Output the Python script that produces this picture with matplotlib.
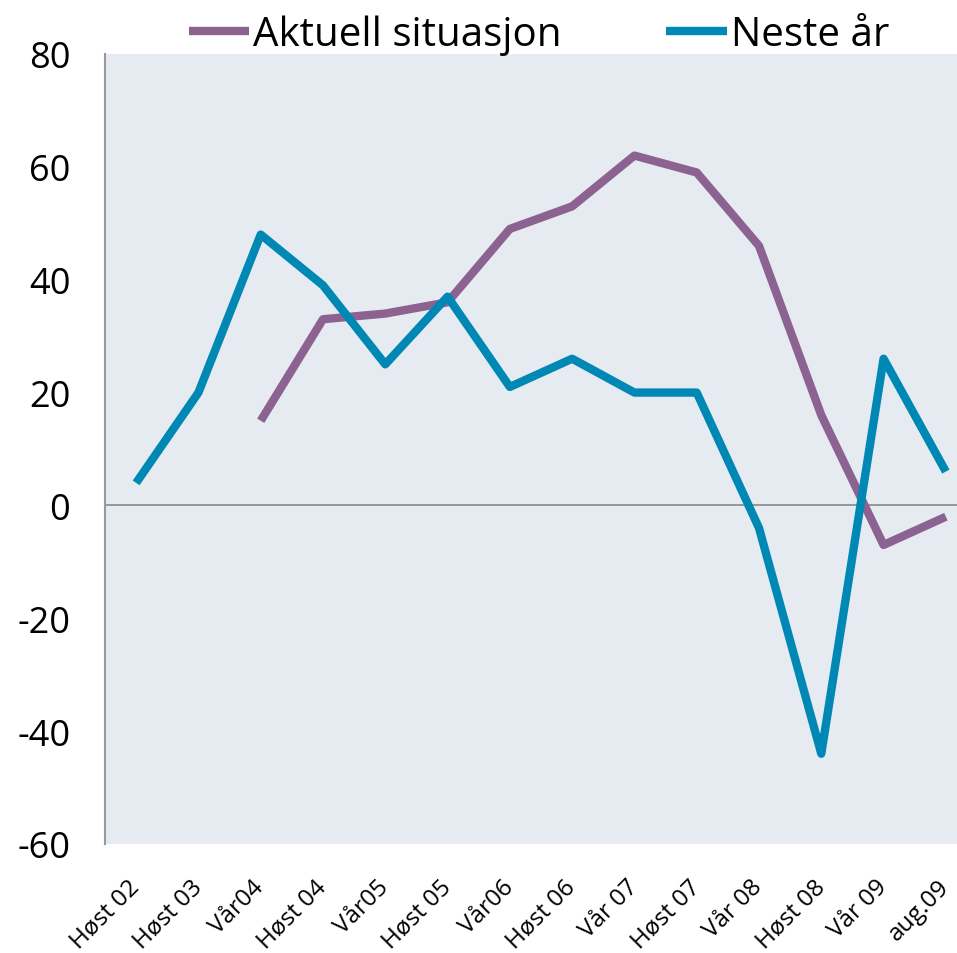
import numpy as np
import matplotlib
matplotlib.use('Agg')
from matplotlib import pyplot as plt

plt.rcParams['font.family'] = ['Open Sans', 'DejaVu Sans']
plt.rcParams['axes.unicode_minus'] = False

kategorier = ['Høst 02', 'Høst 03', 'Vår04', 'Høst 04', 'Vår05', 'Høst 05', 'Vår06',
              'Høst 06', 'Vår 07', 'Høst 07', 'Vår 08', 'Høst 08', 'Vår 09', 'aug.09']
aktuell = [np.nan, np.nan, 15, 33, 34, 36, 49, 53, 62, 59, 46, 16, -7, -2]
neste_aar = [4, 20, 48, 39, 25, 37, 21, 26, 20, 20, -4, -44, 26, 6]

fig = plt.figure(figsize=(9.57, 9.54), dpi=100)
ax = fig.add_axes([105/957, 1-845/954, 872/957, 790/954])
ax.set_facecolor('#E6EBF2')

x = np.arange(len(kategorier))
ax.plot(x, aktuell, color='#8C6290', lw=6, label='Aktuell situasjon', solid_capstyle='butt')
ax.plot(x, neste_aar, color='#0088B4', lw=6, label='Neste år', solid_capstyle='butt')
ax.axhline(0, color='#888888', lw=1.2, zorder=1)

ax.set_xlim(-0.5, len(kategorier)-0.5)
ax.set_ylim(-60, 80)
ax.set_yticks(range(-60, 81, 20))
ax.tick_params(axis='y', length=0, labelsize=26, pad=25)
ax.tick_params(axis='x', length=0, labelsize=17.5, pad=28)
ax.set_xticks(x)
ax.set_xticklabels(kategorier, rotation=45, ha='right', va='center', rotation_mode='anchor')

for s in ['top', 'right', 'bottom']:
    ax.spines[s].set_visible(False)
ax.spines['left'].set_color('#999999')
ax.spines['left'].set_linewidth(1.5)

fig.legend(loc='upper center', bbox_to_anchor=(0.563, 1.022), ncol=2, frameon=False,
           fontsize=29, handlelength=1.5, handletextpad=0.1, columnspacing=2.6)

plt.savefig('out.png', dpi=100)
